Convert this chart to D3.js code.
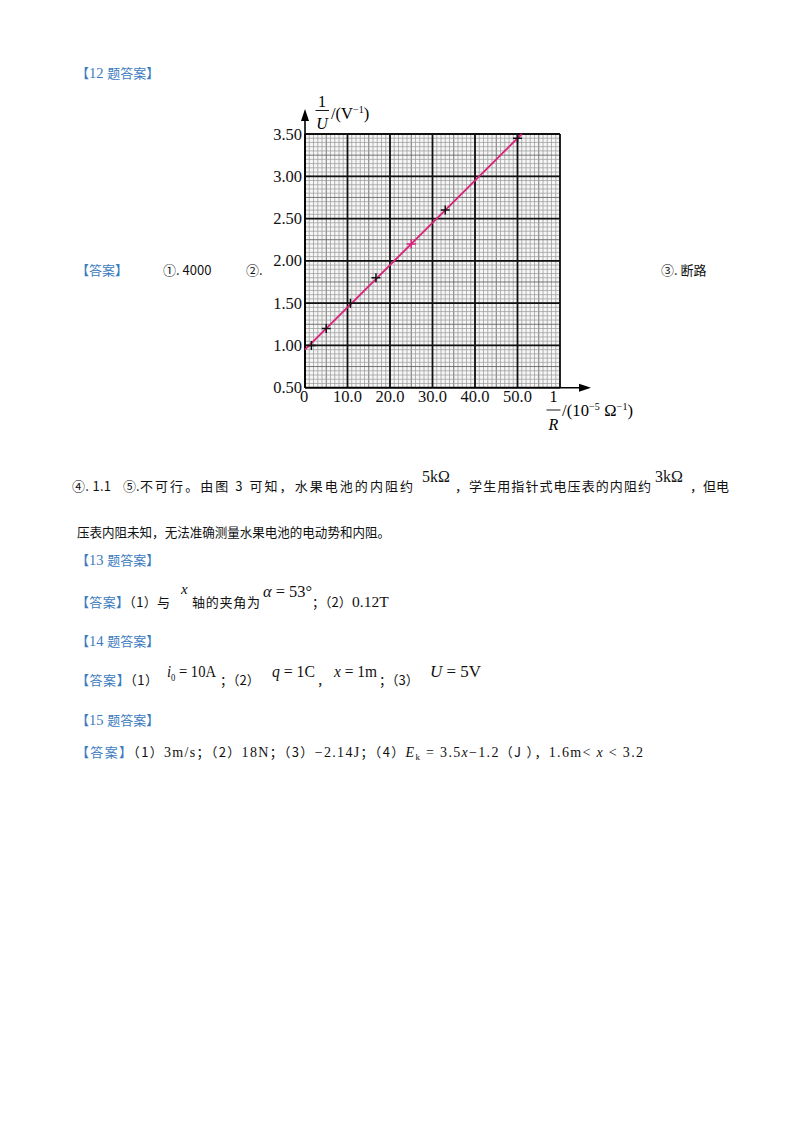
<!DOCTYPE html>
<html>
<head>
<meta charset="utf-8">
<script src="https://cdn.jsdelivr.net/npm/d3@7"></script>
<style>
  body { margin: 0; background: #fff; }
  svg text { font-family: "Liberation Serif", "Noto Sans CJK SC", serif; }
</style>
</head>
<body>
<div id="page"></div>
<script>
// chart values
const xTicks = [0, 10, 20, 30, 40, 50];
const xTickLabels = ["0", "10.0", "20.0", "30.0", "40.0", "50.0"];
const yTicks = [0.5, 1.0, 1.5, 2.0, 2.5, 3.0, 3.5];
const yTickLabels = ["0.50", "1.00", "1.50", "2.00", "2.50", "3.00", "3.50"];
const pointsX = [1.5, 5.0, 10.7, 16.7, 33.0, 50.0];
const pointsY = [1.00, 1.20, 1.50, 1.80, 2.60, 3.45];
const highlightX = [25.0];
const highlightY = [2.20];
const fitX = [0, 51];
const fitY = [0.95, 3.50];

const W = 800, H = 1132;
const blue = "#3b7bc0";
const pink = "#d9217a";
const cjk = '"Noto Sans CJK SC", sans-serif';

const svg = d3.select("#page").append("svg")
    .attr("width", W)
    .attr("height", H);

svg.append("rect").attr("width", W).attr("height", H).attr("fill", "#fff");

const x = d3.scaleLinear().domain([0, 60]).range([305, 560]);
const y = d3.scaleLinear().domain([0.5, 3.5]).range([387.7, 134]);

const plot = svg.append("g");

// minor grid
const minorX = d3.range(0, 60.01, 1);
const minorY = d3.range(0.5, 3.501, 0.05);
plot.append("rect")
    .attr("x", x(0)).attr("y", y(3.5))
    .attr("width", x(60) - x(0)).attr("height", y(0.5) - y(3.5))
    .attr("fill", "#f6f6f6");
plot.selectAll(".mx").data(minorX).enter().append("line")
    .attr("x1", d => x(d)).attr("x2", d => x(d))
    .attr("y1", y(0.5)).attr("y2", y(3.5))
    .attr("stroke", d => (d % 5 === 0 ? "#666" : "#9c9c9c"))
    .attr("stroke-width", d => (d % 5 === 0 ? 0.9 : 0.75));
plot.selectAll(".my").data(minorY).enter().append("line")
    .attr("y1", d => y(d)).attr("y2", d => y(d))
    .attr("x1", x(0)).attr("x2", x(60))
    .attr("stroke", (d, i) => (i % 5 === 0 ? "#666" : "#9c9c9c"))
    .attr("stroke-width", (d, i) => (i % 5 === 0 ? 0.9 : 0.75));

// major grid
plot.selectAll(".Mx").data(d3.range(0, 60.01, 10)).enter().append("line")
    .attr("x1", d => x(d)).attr("x2", d => x(d))
    .attr("y1", y(0.5)).attr("y2", y(3.5))
    .attr("stroke", "#111").attr("stroke-width", 1.8);
plot.selectAll(".My").data(yTicks).enter().append("line")
    .attr("y1", d => y(d)).attr("y2", d => y(d))
    .attr("x1", x(0)).attr("x2", x(60))
    .attr("stroke", "#111").attr("stroke-width", 1.8);

// axes with arrows
plot.append("line")
    .attr("x1", x(0)).attr("x2", x(0))
    .attr("y1", y(0.5)).attr("y2", 118)
    .attr("stroke", "#000").attr("stroke-width", 1.6);
plot.append("path")
    .attr("d", `M${x(0)},109 L${x(0) - 4},121 L${x(0) + 4},121 Z`)
    .attr("fill", "#000");
plot.append("line")
    .attr("x1", x(0)).attr("x2", 582)
    .attr("y1", y(0.5)).attr("y2", y(0.5))
    .attr("stroke", "#000").attr("stroke-width", 1.6);
plot.append("path")
    .attr("d", `M591,${y(0.5)} L579,${y(0.5) - 4} L579,${y(0.5) + 4} Z`)
    .attr("fill", "#000");

// tick labels
plot.selectAll(".yl").data(yTicks).enter().append("text")
    .attr("x", x(0) - 3).attr("y", d => y(d) + 5.5)
    .attr("text-anchor", "end").attr("font-size", 16.5).attr("fill", "#111")
    .text((d, i) => yTickLabels[i]);
plot.selectAll(".xl").data(xTicks).enter().append("text")
    .attr("x", d => (d === 0 ? x(d) - 1 : x(d))).attr("y", 402)
    .attr("text-anchor", "middle").attr("font-size", 16.5).attr("fill", "#111")
    .text((d, i) => xTickLabels[i]);

// y axis title: 1/U /(V^-1)
const yt = plot.append("g");
yt.append("text").attr("x", 322).attr("y", 107).attr("text-anchor", "middle")
    .attr("font-size", 16).text("1");
yt.append("line").attr("x1", 315.5).attr("x2", 329).attr("y1", 110.5).attr("y2", 110.5)
    .attr("stroke", "#000").attr("stroke-width", 0.9);
yt.append("text").attr("x", 322).attr("y", 129).attr("text-anchor", "middle")
    .attr("font-size", 16).attr("font-style", "italic").text("U");
const ytt = yt.append("text").attr("x", 331).attr("y", 119).attr("font-size", 16.5);
ytt.append("tspan").text("/(V");
ytt.append("tspan").attr("font-size", 10).attr("dy", -6).text("−1");
ytt.append("tspan").attr("dy", 6).text(")");

// x axis title: 1/R /(10^-5 Ω^-1)
const xt = plot.append("g");
xt.append("text").attr("x", 553.5).attr("y", 402).attr("text-anchor", "middle")
    .attr("font-size", 16).text("1");
xt.append("line").attr("x1", 546.5).attr("x2", 560.5).attr("y1", 410).attr("y2", 410)
    .attr("stroke", "#000").attr("stroke-width", 0.9);
xt.append("text").attr("x", 553.5).attr("y", 430).attr("text-anchor", "middle")
    .attr("font-size", 16).attr("font-style", "italic").text("R");
const xtt = xt.append("text").attr("x", 562).attr("y", 416).attr("font-size", 16.5)
    .attr("textLength", 71).attr("lengthAdjust", "spacing");
xtt.append("tspan").text("/(10");
xtt.append("tspan").attr("font-size", 10).attr("dy", -6).text("−5");
xtt.append("tspan").attr("dy", 6).text(" Ω");
xtt.append("tspan").attr("font-size", 10).attr("dy", -6).text("−1");
xtt.append("tspan").attr("dy", 6).text(")");

// fitted line
const fit = fitX.map((d, i) => [d, fitY[i]]);
plot.append("path")
    .datum(fit)
    .attr("d", d3.line().x(d => x(d[0])).y(d => y(d[1])))
    .attr("stroke", pink).attr("stroke-width", 1.8).attr("fill", "none");

// crosses
function cross(g, data, color) {
    g.selectAll(null).data(data).enter().append("path")
        .attr("d", d => {
            const cx = x(d[0]), cy = y(d[1]), a = 4.5;
            return `M${cx - a},${cy} H${cx + a} M${cx},${cy - a} V${cy + a}`;
        })
        .attr("stroke", color).attr("stroke-width", 1.5);
}
cross(plot, pointsX.map((d, i) => [d, pointsY[i]]), "#111");
cross(plot, highlightX.map((d, i) => [d, highlightY[i]]), pink);

// --- page text ---
// parts: t text, c colour, f font, i italic, s size, dy shift
// len: width to stretch to (only stretches, squeezes glyphs if too long)
function line(xp, yp, parts, len) {
    const t = svg.append("text").attr("x", xp).attr("y", yp).attr("font-size", 13).attr("fill", "#111");
    parts.forEach(p => {
        const s = t.append("tspan").text(p.t);
        if (p.dy !== undefined) s.attr("dy", p.dy);
        if (p.c) s.attr("fill", p.c);
        if (p.f) s.attr("font-family", p.f);
        if (p.i) s.attr("font-style", "italic");
        if (p.s) s.attr("font-size", p.s);
    });
    if (len) {
        const nat = t.node().getComputedTextLength();
        t.attr("textLength", len)
            .attr("lengthAdjust", nat > len ? "spacingAndGlyphs" : "spacing");
    }
    return t;
}
function head(yp, num) {
    line(76, yp, [{ t: "【", c: blue, f: cjk }, { t: num + " ", c: blue, s: 14.5 }, { t: "题答案】", c: blue, f: cjk }]);
}
const ans = { t: "【答案】", c: blue, f: cjk };

head(78, "12");
line(76, 275, [ans]);
line(163, 275, [{ t: "①.  4000", f: cjk }]);
line(246, 275, [{ t: "②.", f: cjk }]);
line(661, 275, [{ t: "③.  断路", f: cjk }]);

line(72, 491, [{ t: "④.  1.1", f: cjk }], 39);
line(123, 491, [{ t: "⑤. ", f: cjk }]);
line(140, 491, [{ t: "不可行。由图 3 可知，水果电池的内阻约", f: cjk }], 273);
line(422, 482, [{ t: "5kΩ", s: 16 }]);
line(455, 491, [{ t: "，学生用指针式电压表的内阻约", f: cjk }], 196);
line(655, 482, [{ t: "3kΩ", s: 16 }]);
line(690, 491, [{ t: "，但电", f: cjk }]);
line(77, 537, [{ t: "压表内阻未知，无法准确测量水果电池的电动势和内阻。", f: cjk }], 313);

head(565, "13");
line(76, 607, [ans, { t: "（1）与", f: cjk }], 94);
line(181, 594, [{ t: "x", i: true, s: 15 }]);
line(192, 607, [{ t: "轴的夹角为", f: cjk }], 68);
line(263, 597, [{ t: "α", i: true, s: 17 }, { t: " = 53°", s: 17 }], 49);
line(312, 607, [{ t: "；（2）", f: cjk }]);
line(352, 607, [{ t: "0.12T", s: 15.5 }]);

head(646, "14");
line(76, 685, [ans, { t: "（1）", f: cjk }], 82);
line(167, 677, [{ t: "i", i: true, s: 17 }, { t: "0", s: 10, dy: 4 }, { t: " = 10A", s: 17, dy: -4 }], 49);
line(220, 685, [{ t: "；（2）", f: cjk }]);
line(272, 677, [{ t: "q", i: true, s: 17 }, { t: " = 1C", s: 17 }], 43);
line(317, 685, [{ t: "，", f: cjk }]);
line(334, 677, [{ t: "x", i: true, s: 17 }, { t: " = 1m", s: 17 }], 43);
line(379, 685, [{ t: "；（3）", f: cjk }]);
line(430, 677, [{ t: "U", i: true, s: 17 }, { t: " = 5V", s: 17 }], 51);

head(725, "15");
line(76, 757, [
    ans,
    { t: "（1）", f: cjk }, { t: "3m/s", s: 14 }, { t: "；（2）", f: cjk }, { t: "18N", s: 14 },
    { t: "；（3）", f: cjk }, { t: "−2.14J", s: 14 }, { t: "；（4）", f: cjk },
    { t: "E", i: true, s: 14 }, { t: "k", s: 9, dy: 3 }, { t: "  =  3.5", s: 14, dy: -3 }, { t: "x", i: true, s: 14 },
    { t: "−1.2", s: 14 }, { t: "（J ），", f: cjk }, { t: "1.6m< ", s: 14 }, { t: "x", i: true, s: 14 }, { t: " < 3.2", s: 14 }
], 567);
</script>
</body>
</html>
